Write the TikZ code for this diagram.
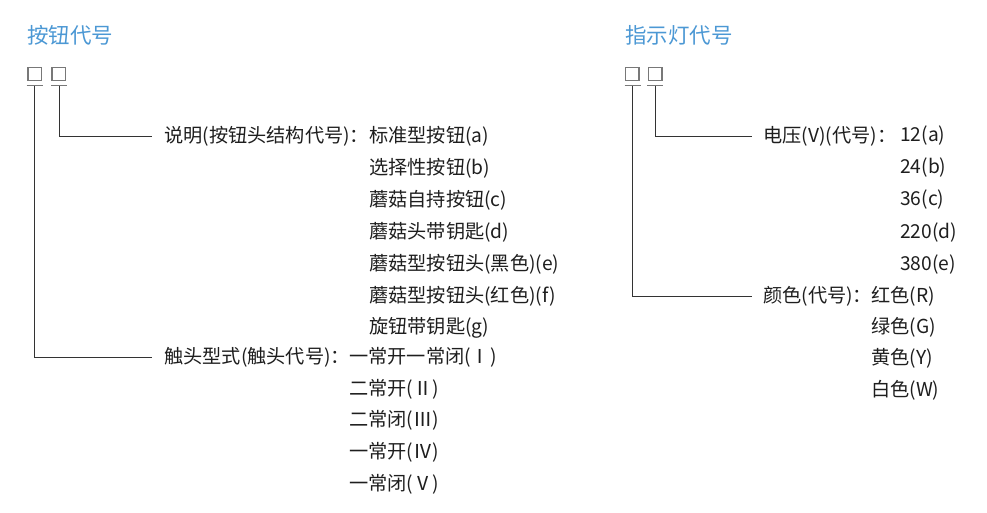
\documentclass[tikz,border=0pt]{standalone}
\usepackage{fontspec}
\setmainfont{Noto Sans CJK SC}
\definecolor{titleblue}{RGB}{76,152,212}
\definecolor{txt}{RGB}{30,30,30}
\definecolor{linecol}{RGB}{51,51,51}
\definecolor{boxgray}{RGB}{120,120,120}
\begin{document}
\begin{tikzpicture}[x=1pt,y=-1pt,
  titletext/.style={text=titleblue, font=\fontsize{21.5}{24}\selectfont, anchor=west, inner sep=0pt},
  lbl/.style={text=txt, font=\fontsize{19.2}{22}\selectfont, anchor=west, inner sep=0pt, yshift=-1pt},
  codebox/.style={draw=boxgray, line width=1.3pt, minimum width=13.5pt, minimum height=13.5pt, inner sep=0pt},
  bar/.style={draw=boxgray, line width=1.6pt},
  conn/.style={draw=linecol, line width=1pt}]
\useasboundingbox (0,0) rectangle (987,512);

% ---------- left: button code ----------
\node[titletext] (t1) at (27,35) {按钮代号};
\node[codebox] (lb1) at (34.7,74) {};
\node[codebox] (lb2) at (58.7,74) {};
\coordinate (lt1) at (34.5,85.5);
\coordinate (lt2) at (59,85.5);
\draw[bar] ([xshift=-8pt]lt1) -- ([xshift=8pt]lt1);
\draw[bar] ([xshift=-8pt]lt2) -- ([xshift=8pt]lt2);

\node[lbl] (lc) at (164,135) {说明(按钮头结构代号)：};
\node[lbl] (la) at (369,135) {标准型按钮(a)};
\node[lbl] (lb) at (369,167) {选择性按钮(b)};
\node[lbl] (lcc) at (369,199) {蘑菇自持按钮(c)};
\node[lbl] (ld) at (369,231.5) {蘑菇头带钥匙(d)};
\node[lbl] (le) at (369,263.5) {蘑菇型按钮头(黑色)(e)};
\node[lbl] (lf) at (369,295.5) {蘑菇型按钮头(红色)(f)};
\node[lbl] (lg) at (369,326.5) {旋钮带钥匙(g)};

\node[lbl] (lk) at (164,356.5) {触头型式(触头代号)：};
\node[lbl] (k1) at (349,356.5) {一常开一常闭(Ⅰ)};
\node[lbl] (k2) at (349,388) {二常开(Ⅱ)};
\node[lbl] (k3) at (349,419.5) {二常闭(Ⅲ)};
\node[lbl] (k4) at (349,451.5) {一常开(Ⅳ)};
\node[lbl] (k5) at (349,483.5) {一常闭(Ⅴ)};

\draw[conn] (lt2) |- ([xshift=-12pt]lc.west);
\draw[conn] (lt1) |- ([xshift=-12pt]lk.west);

% ---------- right: indicator code ----------
\node[titletext] (t2) at (625,35) {指示灯代号};
\node[codebox] (rb1) at (632.3,74) {};
\node[codebox] (rb2) at (655.3,74) {};
\coordinate (rt1) at (632.7,85.5);
\coordinate (rt2) at (655,85.5);
\draw[bar] ([xshift=-8pt]rt1) -- ([xshift=8pt]rt1);
\draw[bar] ([xshift=-8pt]rt2) -- ([xshift=8pt]rt2);

\node[lbl] (rv) at (763,135) {电压(V)(代号)：};
\node[lbl] (v1) at (900,135) {12(a)};
\node[lbl] (v2) at (900,167) {24(b)};
\node[lbl] (v3) at (900,199) {36(c)};
\node[lbl] (v4) at (900,231.5) {220(d)};
\node[lbl] (v5) at (900,263.5) {380(e)};

\node[lbl] (rc) at (763,295.5) {颜色(代号)：};
\node[lbl] (c1) at (871,295.5) {红色(R)};
\node[lbl] (c2) at (871,326.5) {绿色(G)};
\node[lbl] (c3) at (871,357.5) {黄色(Y)};
\node[lbl] (c4) at (871,389.5) {白色(W)};

\draw[conn] (rt2) |- ([xshift=-11pt]rv.west);
\draw[conn] (rt1) |- ([xshift=-11pt]rc.west);
\end{tikzpicture}
\end{document}
